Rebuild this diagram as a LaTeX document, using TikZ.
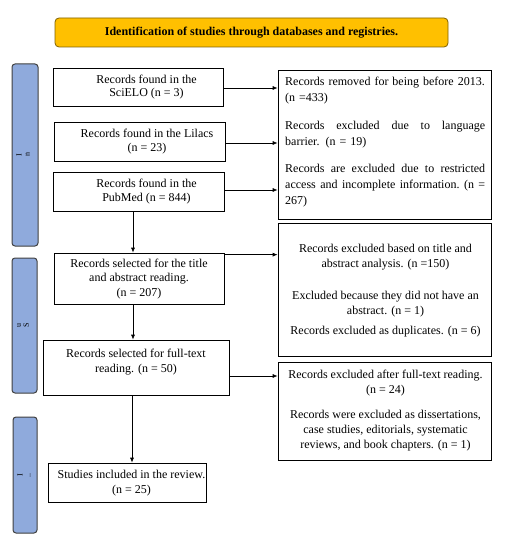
\documentclass[tikz,border=0pt]{standalone}
\usepackage{fontspec}
\setmainfont{Liberation Serif}
\usetikzlibrary{arrows.meta}
\definecolor{titlefill}{HTML}{FFC000}
\definecolor{titleborder}{HTML}{7F6000}
\definecolor{barfill}{HTML}{8FAADC}
\definecolor{barborder}{HTML}{404040}
\newcommand{\fullline}[1]{\leavevmode\hbox to 200pt{#1}}
\tikzset{
  box/.style={draw, line width=0.7pt, inner sep=0pt},
  txt/.style={align=center, inner sep=0pt, font=\fontsize{12}{15}\selectfont},
  tighttxt/.style={align=center, inner sep=0pt, font=\fontsize{12}{13.5}\selectfont},
  sidebar/.style={draw=barborder, fill=barfill, rounded corners=3pt, line width=1pt, inner sep=0pt},
  bartext/.style={rotate=90, align=center, inner sep=0pt, font=\fontsize{8}{8}\selectfont},
  arr/.style={-{Latex[length=5pt,width=4pt]}, line width=0.7pt},
}
\begin{document}
\begin{tikzpicture}[x=1pt,y=-1pt]
\useasboundingbox (0,0) rectangle (509,534);
% title
\node[draw=titleborder, fill=titlefill, rounded corners=4pt, line width=0.8pt, minimum width=393pt, minimum height=29pt, font=\bfseries\fontsize{12}{14}\selectfont] (title) at (251.5,32.5) {Identification of studies through databases and registries.};
% side bars
\node[sidebar, minimum width=26pt, minimum height=182pt] (bar1) at (25,155) {};
\node[bartext] (bar1t) at (23,155) {I\\n};
\node[sidebar, minimum width=25pt, minimum height=135pt] (bar2) at (24.5,325.5) {};
\node[bartext] (bar2t) at (23,325.5) {u\\S};
\node[sidebar, minimum width=24pt, minimum height=116pt] (bar3) at (25,475) {};
\node[bartext] (bar3t) at (24,475) {I\\..};
% left boxes
\node[box, minimum width=170pt, minimum height=38pt] (b1) at (138,87.5) {};
\node[tighttxt] (b1t) at (146.5,87) {Records found in the\\ SciELO (n = 3)};
\node[box, minimum width=171pt, minimum height=39pt] (b2) at (139.5,141.5) {};
\node[tighttxt] (b2t) at (147,141.5) {Records found in the Lilacs\\ (n = 23)};
\node[box, minimum width=171pt, minimum height=39pt] (b3) at (138.5,191.5) {};
\node[tighttxt] (b3t) at (146.5,191.5) {Records found in the\\ PubMed (n = 844)};
\node[box, minimum width=170pt, minimum height=51pt] (b4) at (139,278.5) {};
\node[txt, font=\fontsize{12}{14.5}\selectfont] (b4t) at (139,279) {Records selected for the title\\ and abstract reading.\\ (n = 207)};
\node[box, minimum width=186pt, minimum height=55pt] (b5) at (136,367.5) {};
\node[txt] (b5t) at (136,362.5) {Records selected for full-text\\ reading. (n = 50)};
\node[box, minimum width=158pt, minimum height=39pt] (b6) at (127,482.5) {};
\node[txt] (b6t) at (131.5,483) {Studies included in the review.\\ (n = 25)};
% right boxes
\node[box, minimum width=213pt, minimum height=149pt] (r1) at (384.5,144.5) {};
\node[txt, font=\fontsize{12}{16.3}\selectfont, text width=200pt, align=left, anchor=north west] (r1t) at (285,77) {Records removed for being before 2013.\\ (n =433)\\[11pt] \fullline{Records\hfill excluded\hfill due\hfill to\hfill language}\\ barrier. (n = 19)\\[10.5pt] \fullline{Records\hfill are\hfill excluded\hfill due\hfill to\hfill restricted}\\ \fullline{access\hfill and\hfill incomplete\hfill information.\hfill (n\hfill =}\\ 267)};
\node[box, minimum width=213pt, minimum height=133pt] (r2) at (384.5,289.5) {};
\node[txt] (r2t) at (385.5,291) {Records excluded based on title and\\ abstract analysis. (n =150)\\[17pt] Excluded because they did not have an\\ abstract. (n = 1)\\[5pt] Records excluded as duplicates. (n = 6)};
\node[box, minimum width=213pt, minimum height=98pt] (r3) at (384.5,411) {};
\node[txt] (r3t) at (385.5,411) {Records excluded after full-text reading.\\ (n = 24)\\[10pt] Records were excluded as dissertations,\\ case studies, editorials, systematic\\ reviews, and book chapters. (n = 1)};
% connectors
\draw[arr] ([yshift=-0.5pt]b1.east) -- ([yshift=-0.5pt]b1.east -| r1.west);
\draw[arr] ([yshift=-1.5pt]b2.east) -- ([yshift=-1.5pt]b2.east -| r1.west);
\draw[arr] ([yshift=1.5pt]b3.east) -- ([yshift=1.5pt]b3.east -| r1.west);
\draw[arr] ([xshift=-5.5pt]b3.south) -- ([xshift=-5.5pt]b3.south |- b4.north);
\draw[arr] ([yshift=-2pt]b4.north east) -- ([yshift=-2pt]b4.north east -| r2.west);
\draw[arr] ([xshift=-6pt]b4.south) -- ([xshift=-6pt]b4.south |- b5.north);
\draw[arr] ([yshift=-8.5pt]b5.east) -- ([yshift=-8.5pt]b5.east -| r3.west);
\draw[arr] ([xshift=-4pt]b5.south) -- ([xshift=-4pt]b5.south |- b6.north);
\end{tikzpicture}
\end{document}
